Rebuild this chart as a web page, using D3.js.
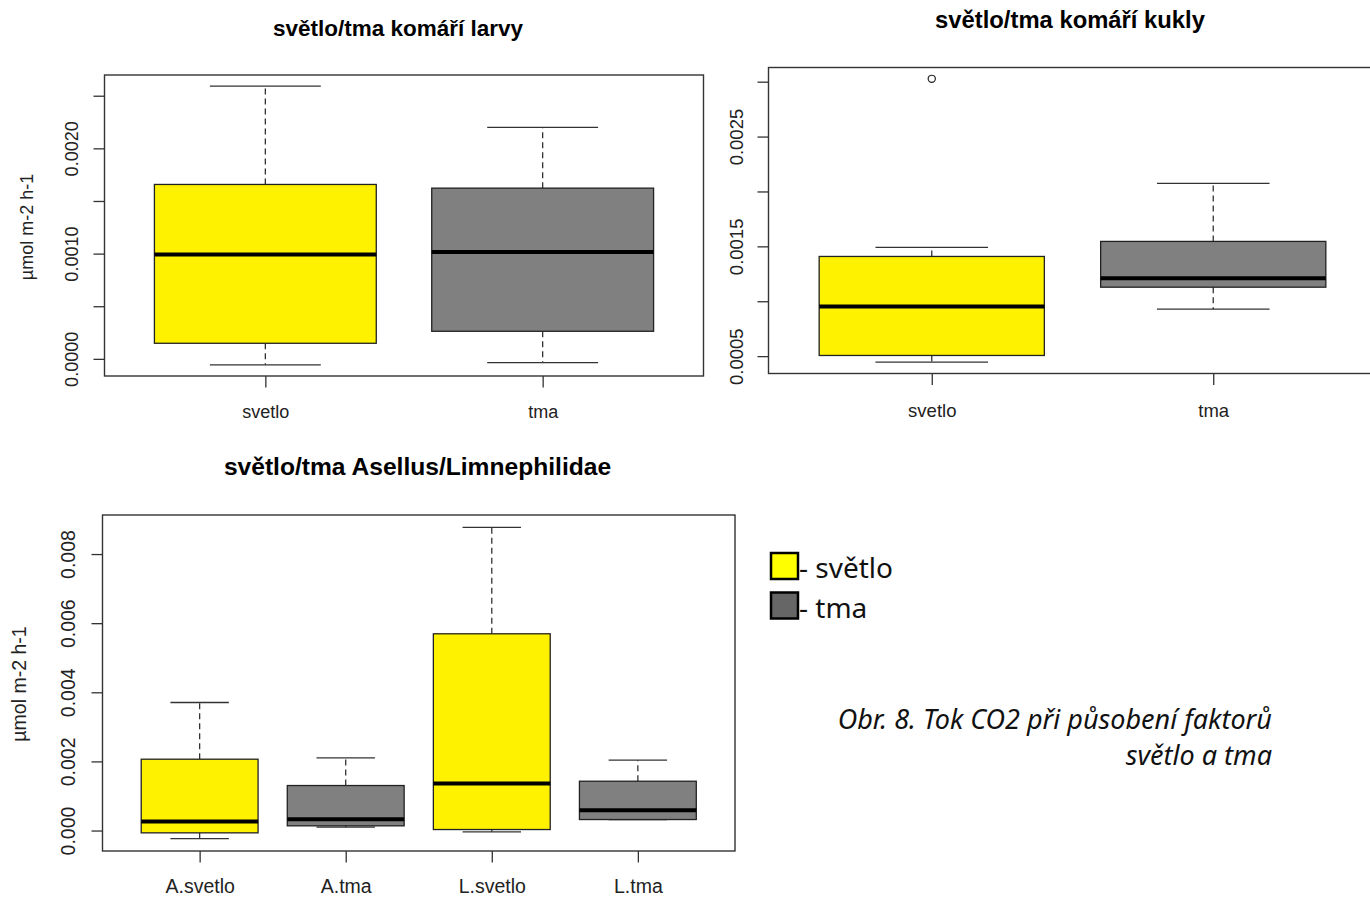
<!DOCTYPE html>
<html lang="cs">
<head>
<meta charset="UTF-8">
<title>světlo/tma</title>
<script src="https://d3js.org/d3.v7.min.js"></script>
<style>
    body { margin: 0; background: #fff; }
    svg { display: block; font-family: "Liberation Sans", Arial, sans-serif; }
    .frame { fill: none; stroke: #333; stroke-width: 1.4; }
    .axis line { stroke: #333; stroke-width: 1.3; }
    .axis text { fill: #222; }
    .box { stroke: #222; stroke-width: 1.3; }
    .median { stroke: #000; stroke-width: 4; }
    .whisker { stroke: #333; stroke-width: 1.3; stroke-dasharray: 6,4; }
    .cap { stroke: #333; stroke-width: 1.3; }
</style>
</head>
<body>
<svg width="1370" height="897"></svg>
<script>
    // --- data ---
    // komáří larvy
    const larvyGroups = ["svetlo", "tma"];
    const larvyLow    = [-0.000057, -0.000035];
    const larvyQ1     = [0.000148, 0.000262];
    const larvyMed    = [0.000991, 0.001015];
    const larvyQ3     = [0.001657, 0.001622];
    const larvyHigh   = [0.002591, 0.002199];
    const larvyOut    = [];
    const larvyTicks  = [0, 0.0005, 0.0010, 0.0015, 0.0020, 0.0025];
    const larvyLabels = ["0.0000", "", "0.0010", "", "0.0020", ""];

    // komáří kukly
    const kuklyGroups = ["svetlo", "tma"];
    const kuklyLow    = [0.000445, 0.000928];
    const kuklyQ1     = [0.000506, 0.001128];
    const kuklyMed    = [0.000953, 0.001210];
    const kuklyQ3     = [0.001408, 0.001545];
    const kuklyHigh   = [0.001490, 0.002073];
    const kuklyOut    = [[0, 0.003026]];
    const kuklyTicks  = [0.0005, 0.0010, 0.0015, 0.0020, 0.0025, 0.0030];
    const kuklyLabels = ["0.0005", "", "0.0015", "", "0.0025", ""];

    // Asellus / Limnephilidae
    const aselGroups = ["A.svetlo", "A.tma", "L.svetlo", "L.tma"];
    const aselLow    = [-0.000232, 0.000096, -0.000038, 0.000318];
    const aselQ1     = [-0.000067, 0.000136, 0.000029, 0.000318];
    const aselMed    = [0.000260, 0.000327, 0.001360, 0.000588];
    const aselQ3     = [0.002064, 0.001302, 0.005693, 0.001427];
    const aselHigh   = [0.003705, 0.002104, 0.008770, 0.002035];
    const aselOut    = [];
    const aselTicks  = [0, 0.002, 0.004, 0.006, 0.008];
    const aselLabels = ["0.000", "0.002", "0.004", "0.006", "0.008"];

    const fillSvetlo = "#fff200";
    const fillTma = "#808080";
    const larvyFill = [fillSvetlo, fillTma];
    const kuklyFill = [fillSvetlo, fillTma];
    const aselFill  = [fillSvetlo, fillTma, fillSvetlo, fillTma];

    const legendLabels = ["- světlo", "- tma"];
    const legendColors = ["#ffff00", "#666666"];
    const captionLines = ["Obr. 8. Tok CO2 při působení faktorů", "světlo a tma"];

    const svg = d3.select("svg");

    function boxplot(o) {
        const g = svg.append("g");
        const all = o.low.concat(o.high, o.out.map(d => d[1]));
        const [mn, mx] = d3.extent(all);
        const pad = (mx - mn) * 0.04;
        const x = d3.scaleLinear().domain(o.xDomain).range([o.left, o.right]);
        const y = d3.scaleLinear().domain([mn - pad, mx + pad]).range([o.bottom, o.top]);
        const idx = d3.range(o.groups.length);

        // title
        g.append("text")
            .attr("x", o.titleX).attr("y", o.titleY)
            .attr("text-anchor", "middle")
            .style("font-weight", "bold")
            .style("font-size", o.titleSize + "px")
            .text(o.title);

        // axes
        const yAxis = d3.axisLeft(y).tickValues(o.ticks).tickSize(11)
            .tickFormat((d, i) => o.labels[i]);
        g.append("g").attr("class", "axis")
            .attr("transform", `translate(${o.left},0)`)
            .call(yAxis)
            .call(a => a.select(".domain").remove())
            .selectAll("text")
            .attr("transform", "rotate(-90)")
            .attr("x", 0).attr("y", -o.yLabOff).attr("dy", 0)
            .attr("text-anchor", "middle")
            .style("font-size", o.fontSize + "px")
            .style("font-family", "'Liberation Sans', Arial, sans-serif");

        const xAxis = d3.axisBottom(x).tickValues(idx.map(i => i + 1)).tickSize(11.5)
            .tickFormat((d, i) => o.groups[i]);
        g.append("g").attr("class", "axis")
            .attr("transform", `translate(0,${o.bottom})`)
            .call(xAxis)
            .call(a => a.select(".domain").remove())
            .selectAll("text")
            .attr("y", o.xLabOff).attr("dy", 0)
            .style("font-size", o.fontSize + "px")
            .style("font-family", "'Liberation Sans', Arial, sans-serif");

        if (o.yTitle) {
            g.append("text")
                .attr("transform", `translate(${o.yTitleX},${o.yTitleY}) rotate(-90)`)
                .attr("text-anchor", "middle")
                .style("font-size", o.fontSize + "px")
                .style("fill", "#222")
                .text(o.yTitle);
        }

        // boxes
        const b = g.selectAll(".bx").data(idx).enter().append("g");
        b.append("line").attr("class", "whisker")
            .attr("x1", i => x(i + 1)).attr("x2", i => x(i + 1))
            .attr("y1", i => y(o.q3[i])).attr("y2", i => y(o.high[i]));
        b.append("line").attr("class", "whisker")
            .attr("x1", i => x(i + 1)).attr("x2", i => x(i + 1))
            .attr("y1", i => y(o.q1[i])).attr("y2", i => y(o.low[i]));
        b.append("line").attr("class", "cap")
            .attr("x1", i => x(i + 0.8)).attr("x2", i => x(i + 1.2))
            .attr("y1", i => y(o.high[i])).attr("y2", i => y(o.high[i]));
        b.append("line").attr("class", "cap")
            .attr("x1", i => x(i + 0.8)).attr("x2", i => x(i + 1.2))
            .attr("y1", i => y(o.low[i])).attr("y2", i => y(o.low[i]));
        b.append("rect").attr("class", "box")
            .attr("x", i => x(i + 0.6))
            .attr("width", i => x(i + 1.4) - x(i + 0.6))
            .attr("y", i => y(o.q3[i]))
            .attr("height", i => y(o.q1[i]) - y(o.q3[i]))
            .attr("fill", i => o.fill[i]);
        b.append("line").attr("class", "median")
            .attr("x1", i => x(i + 0.6)).attr("x2", i => x(i + 1.4))
            .attr("y1", i => y(o.med[i])).attr("y2", i => y(o.med[i]));

        g.selectAll(".out").data(o.out).enter().append("circle")
            .attr("cx", d => x(d[0] + 1)).attr("cy", d => y(d[1]))
            .attr("r", 3.6).attr("fill", "none").attr("stroke", "#222").attr("stroke-width", 1.2);

        g.append("rect").attr("class", "frame")
            .attr("x", o.left).attr("y", o.top)
            .attr("width", o.right - o.left).attr("height", o.bottom - o.top);
    }

    boxplot({
        title: "světlo/tma komáří larvy", titleX: 398, titleY: 36, titleSize: 22.5,
        groups: larvyGroups, low: larvyLow, q1: larvyQ1, med: larvyMed, q3: larvyQ3,
        high: larvyHigh, out: larvyOut, fill: larvyFill,
        ticks: larvyTicks, labels: larvyLabels,
        left: 104.5, right: 703.5, top: 75, bottom: 376, xDomain: [0.42, 2.58],
        fontSize: 18, yLabOff: 27, xLabOff: 42,
        yTitle: "µmol m-2 h-1", yTitleX: 33, yTitleY: 227
    });

    boxplot({
        title: "světlo/tma komáří kukly", titleX: 1070, titleY: 28, titleSize: 23.8,
        groups: kuklyGroups, low: kuklyLow, q1: kuklyQ1, med: kuklyMed, q3: kuklyQ3,
        high: kuklyHigh, out: kuklyOut, fill: kuklyFill,
        ticks: kuklyTicks, labels: kuklyLabels,
        left: 768.5, right: 1376.5, top: 67.5, bottom: 373.5, xDomain: [0.42, 2.58],
        fontSize: 18.5, yLabOff: 26, xLabOff: 43
    });

    boxplot({
        title: "světlo/tma Asellus/Limnephilidae", titleX: 417.5, titleY: 475, titleSize: 24.6,
        groups: aselGroups, low: aselLow, q1: aselQ1, med: aselMed, q3: aselQ3,
        high: aselHigh, out: aselOut, fill: aselFill,
        ticks: aselTicks, labels: aselLabels,
        left: 102.5, right: 735, top: 515, bottom: 851, xDomain: [0.335, 4.665],
        fontSize: 19.5, yLabOff: 28, xLabOff: 42,
        yTitle: "µmol m-2 h-1", yTitleX: 26, yTitleY: 684
    });

    // legend
    const leg = svg.append("g").attr("transform", "translate(771,553)");
    const li = leg.selectAll("g").data(legendLabels).enter().append("g")
        .attr("transform", (d, i) => `translate(0,${i * 39.5})`);
    li.append("rect").attr("width", 27).attr("height", 26)
        .attr("fill", (d, i) => legendColors[i])
        .attr("stroke", "#000").attr("stroke-width", 2.5);
    li.append("text").attr("x", 28).attr("y", 25)
        .style("font-family", "'Noto Sans', 'Open Sans', sans-serif")
        .style("font-size", "28px").style("fill", "#111")
        .text(d => d);

    // caption
    svg.append("g").selectAll("text").data(captionLines).enter().append("text")
        .attr("x", 1272).attr("y", (d, i) => 729 + i * 36)
        .attr("text-anchor", "end")
        .style("font-family", "'Noto Sans', 'Open Sans', sans-serif")
        .style("font-style", "italic").style("font-size", "27px").style("fill", "#111")
        .text(d => d);
</script>
</body>
</html>
